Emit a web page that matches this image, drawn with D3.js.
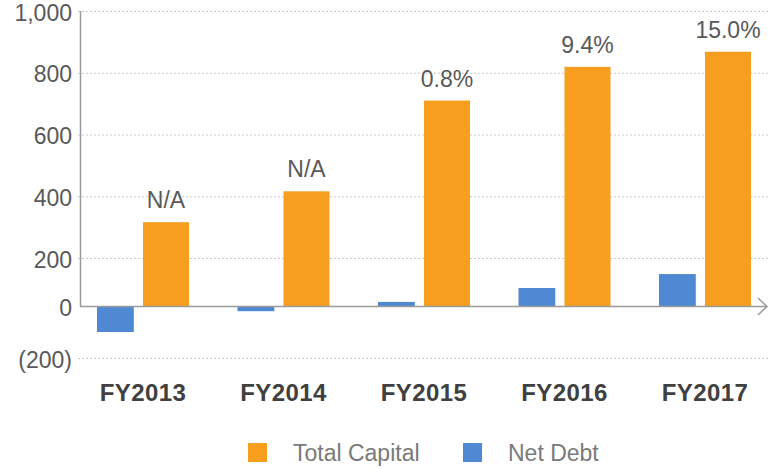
<!DOCTYPE html>
<html>
<head>
<meta charset="utf-8">
<script src="https://cdn.jsdelivr.net/npm/d3@7"></script>
<style>
	body { margin: 0; background: #fff; }
	text { font-family: "Liberation Sans", Arial, sans-serif; }
</style>
</head>
<body>
<svg id="chart" width="769" height="469"></svg>
<script>
// chart data
var years = ["FY2013", "FY2014", "FY2015", "FY2016", "FY2017"];
var totalCapital = [316, 416, 710, 819, 868];
var netDebt = [-100, -20, 17, 75, 133];
var ratioLabels = ["N/A", "N/A", "0.8%", "9.4%", "15.0%"];
var yTicks = [-200, 0, 200, 400, 600, 800, 1000];
var yTickLabels = ["(200)", "0", "200", "400", "600", "800", "1,000"];

var svg = d3.select("#chart");

var orange = "#F79E1F";
var blue = "#5089D3";
var axisGrey = "#9a9a9a";

// the original axis is not quite linear around zero, so use a piecewise scale
var y = d3.scaleLinear()
		.domain([-200, 0, 200, 1000])
		.range([358, 306, 258, 11]);

var x0 = d3.scaleBand()
		.domain(years)
		.range([72.75, 775.25])
		.paddingInner(0.345)
		.paddingOuter(0.1725);

var bw = x0.bandwidth();
var left = 80, right = 769;

// gridlines (dotted), skip zero
var grid = svg.append("g").attr("class", "grid");
grid.selectAll("line")
	.data(yTicks.filter(function(d){ return d !== 0; }))
	.enter().append("line")
		.attr("x1", left - 2)
		.attr("x2", right)
		.attr("y1", function(d){ return y(d) + 0.5; })
		.attr("y2", function(d){ return y(d) + 0.5; })
		.attr("stroke", "#c8c8c8")
		.attr("stroke-width", 1)
		.attr("stroke-dasharray", "2,2");

// y tick labels
svg.append("g").selectAll("text")
	.data(yTicks)
	.enter().append("text")
		.attr("x", 72)
		.attr("y", function(d){ return y(d) + 9.5; })
		.attr("text-anchor", "end")
		.attr("font-size", 23)
		.attr("fill", "#595959")
		.text(function(d, i){ return yTickLabels[i]; });

// bars
var groups = svg.append("g").selectAll("g")
	.data(years)
	.enter().append("g")
		.attr("transform", function(d){ return "translate(" + x0(d) + ",0)"; });

groups.append("rect")
	.attr("x", 0)
	.attr("width", bw * 0.4)
	.attr("y", function(d, i){ return y(Math.max(0, netDebt[i])); })
	.attr("height", function(d, i){ return Math.abs(y(netDebt[i]) - y(0)); })
	.attr("fill", blue);

groups.append("rect")
	.attr("x", bw * 0.5)
	.attr("width", bw * 0.5)
	.attr("y", function(d, i){ return y(totalCapital[i]); })
	.attr("height", function(d, i){ return y(0) - y(totalCapital[i]); })
	.attr("fill", orange);

groups.append("text")
	.attr("x", bw * 0.75)
	.attr("y", function(d, i){ return y(totalCapital[i]) - 14; })
	.attr("text-anchor", "middle")
	.attr("font-size", 23)
	.attr("fill", "#595959")
	.text(function(d, i){ return ratioLabels[i]; });

// axes lines
svg.append("line")
	.attr("x1", left + 0.5).attr("x2", left + 0.5)
	.attr("y1", y(1000)).attr("y2", y(0) + 0.5)
	.attr("stroke", axisGrey).attr("stroke-width", 1.5);

svg.append("line")
	.attr("x1", left).attr("x2", 767)
	.attr("y1", y(0) + 0.5).attr("y2", y(0) + 0.5)
	.attr("stroke", axisGrey).attr("stroke-width", 1.5);

svg.append("path")
	.attr("d", "M758," + (y(0) - 8) + "L767," + (y(0) + 0.5) + "L758," + (y(0) + 9))
	.attr("fill", "none")
	.attr("stroke", axisGrey)
	.attr("stroke-width", 1.5);

// category labels
svg.append("g").selectAll("text")
	.data(years)
	.enter().append("text")
		.attr("x", function(d){ return x0(d) + bw / 2; })
		.attr("y", 401)
		.attr("text-anchor", "middle")
		.attr("font-size", 24)
		.attr("letter-spacing", 0.4)
		.attr("font-weight", "bold")
		.attr("fill", "#404040")
		.text(function(d){ return d; });

// legend
var legendItems = [
	{name: "Total Capital", color: orange, x: 248},
	{name: "Net Debt", color: blue, x: 463}
];
var legend = svg.append("g").selectAll("g")
	.data(legendItems)
	.enter().append("g")
		.attr("transform", function(d){ return "translate(" + d.x + ",443)"; });
legend.append("rect")
	.attr("width", 19).attr("height", 19)
	.attr("fill", function(d){ return d.color; });
legend.append("text")
	.attr("x", 45)
	.attr("y", 18)
	.attr("font-size", 23)
	.attr("fill", "#7a7a7a")
	.text(function(d){ return d.name; });
</script>
</body>
</html>
